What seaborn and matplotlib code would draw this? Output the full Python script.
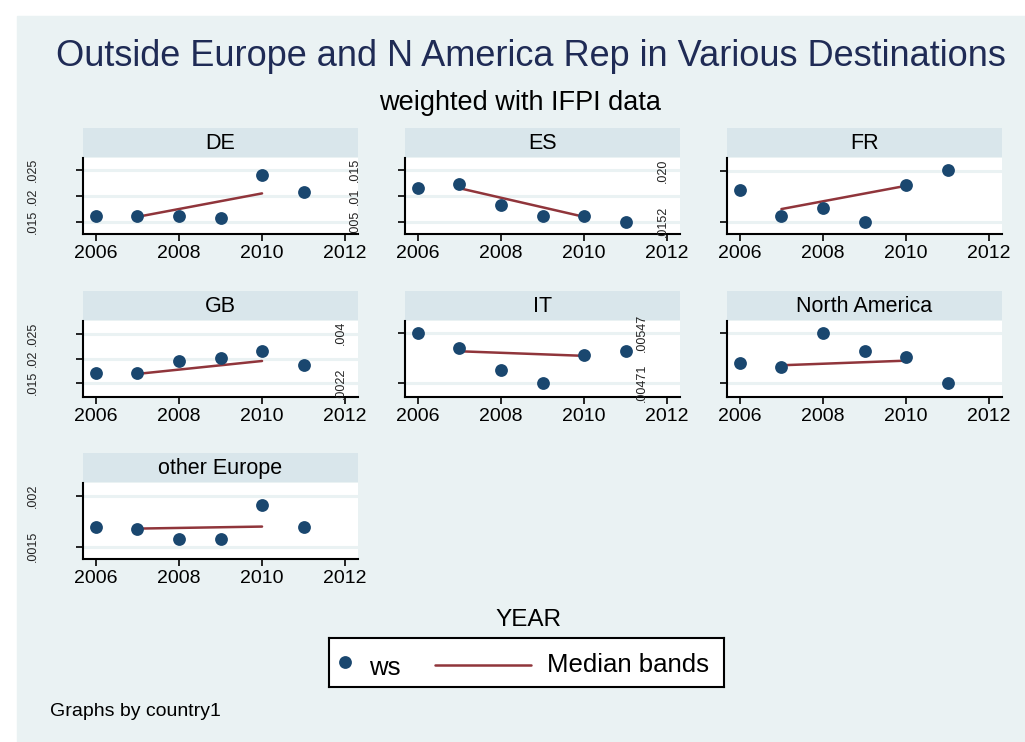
import numpy as np
import pandas as pd
import matplotlib
matplotlib.use('Agg')
import matplotlib.pyplot as plt
import seaborn as sns
from matplotlib.patches import Rectangle

# data
years = [2006, 2007, 2008, 2009, 2010, 2011]
countries = ['DE', 'ES', 'FR', 'GB', 'IT', 'North America', 'other Europe']

ws_de = [0.0162, 0.0162, 0.0162, 0.0157, 0.0240, 0.0207]
ws_es = [0.0116, 0.0124, 0.0083, 0.0062, 0.0062, 0.0051]
ws_fr = [0.0182, 0.0157, 0.0165, 0.0152, 0.0187, 0.0201]
ws_gb = [0.0171, 0.0171, 0.0195, 0.0201, 0.0216, 0.0186]
ws_it = [0.0045, 0.0038, 0.0028, 0.0022, 0.0035, 0.0037]
ws_na = [0.00502, 0.00496, 0.00547, 0.00520, 0.00510, 0.00471]
ws_oe = [0.00170, 0.00168, 0.00158, 0.00158, 0.00191, 0.00170]

# median bands (two band midpoints per panel)
band_years = [2007, 2010]
med_de = [0.0160, 0.0205]
med_es = [0.0115, 0.0060]
med_fr = [0.0164, 0.0186]
med_gb = [0.0169, 0.0195]
med_it = [0.00367, 0.00346]
med_na = [0.00498, 0.00505]
med_oe = [0.00168, 0.00170]

# y ticks and their (partly clipped) labels as printed
yticks = {
    'DE': ([0.015, 0.02, 0.025], ['.015', '.02', '.025']),
    'ES': ([0.005, 0.01, 0.015], ['.005', '.01', '.015']),
    'FR': ([0.0152, 0.0200], ['.0152', '.020']),
    'GB': ([0.015, 0.02, 0.025], ['.015', '.02', '.025']),
    'IT': ([0.0022, 0.0045], ['.0022', '.004']),
    'North America': ([0.00471, 0.00547], ['.00471', '.00547']),
    'other Europe': ([0.0015, 0.002], ['.0015', '.002']),
}
ylims = {
    'DE': (0.0127, 0.0273), 'ES': (0.0027, 0.0173), 'FR': (0.01404, 0.02123),
    'GB': (0.01225, 0.02755), 'IT': (0.00157, 0.00506),
    'North America': (0.00450, 0.00565), 'other Europe': (0.00138, 0.00213),
}
label_pad = {'DE': 27, 'ES': 27, 'FR': 37, 'GB': 27, 'IT': 37,
             'North America': 52, 'other Europe': 27}

ws_all = [ws_de, ws_es, ws_fr, ws_gb, ws_it, ws_na, ws_oe]
med_all = [med_de, med_es, med_fr, med_gb, med_it, med_na, med_oe]
df = pd.DataFrame({'country1': np.repeat(countries, len(years)),
                   'YEAR': years * len(countries),
                   'ws': np.concatenate(ws_all)})
med = pd.DataFrame({'country1': np.repeat(countries, len(band_years)),
                    'YEAR': band_years * len(countries),
                    'median': np.concatenate(med_all)})

bg = '#EAF2F3'
strip_col = '#D9E6EB'
navy = '#1A476F'
maroon = '#90353B'

sns.set_style('white')
plt.rcParams['font.family'] = ['Liberation Sans', 'DejaVu Sans']
plt.rcParams['text.color'] = 'black'
plt.rcParams['xtick.color'] = 'black'
plt.rcParams['ytick.color'] = 'black'

W, H = 1025, 742
fig = plt.figure(figsize=(W / 100, H / 100), dpi=100)
fig.patch.set_facecolor('white')
fig.patches.append(Rectangle((17 / W, 0), 1 - 17 / W, 1 - 16 / H,
                             transform=fig.transFigure, color=bg, zorder=-10))


def fax(x0, y0, w, h):
    return fig.add_axes([x0 / W, 1 - (y0 + h) / H, w / W, h / H])


col_x = [83, 405, 727]
row_plot = [(158, 76), (321, 76), (483, 76)]
pw = 275

for i, c in enumerate(countries):
    r, k = divmod(i, 3)
    x0 = col_x[k]
    py, ph = row_plot[r]
    # strip
    sax = fax(x0, py - 30, pw, 29)
    sax.set_facecolor(strip_col)
    sax.set_xticks([])
    sax.set_yticks([])
    for s in sax.spines.values():
        s.set_visible(False)
    sax.text(0.5, 0.48, c, ha='center', va='center', fontsize=15.5,
             transform=sax.transAxes)

    ax = fax(x0, py, pw, ph)
    ax.set_facecolor('white')
    sub = df[df['country1'] == c]
    msub = med[med['country1'] == c]
    sns.lineplot(data=msub, x='YEAR', y='median', ax=ax, color=maroon,
                 lw=1.8, zorder=2, legend=False)
    sns.scatterplot(data=sub, x='YEAR', y='ws', ax=ax, color=navy, s=85,
                    edgecolor=navy, linewidth=0, zorder=3, legend=False)
    ax.set_xlim(2005.69, 2012.31)
    ax.set_ylim(*ylims[c])
    ax.set_xticks([2006, 2008, 2010, 2012])
    ticks, labels = yticks[c]
    ax.set_yticks(ticks)
    ax.set_yticklabels(labels, rotation=90, va='center', fontsize=9,
                       color='#222222')
    for t in ticks:
        ax.axhline(t, color=bg, lw=2.2, zorder=0)
    ax.tick_params(axis='x', length=5, width=1.2, direction='out',
                   labelsize=14, pad=3, bottom=True)
    ax.tick_params(axis='y', length=5, width=1.2, direction='out',
                   pad=label_pad[c], left=True)
    ax.set_xlabel('')
    ax.set_ylabel('')
    for s in ['top', 'right']:
        ax.spines[s].set_visible(False)
    for s in ['left', 'bottom']:
        ax.spines[s].set_color('black')
        ax.spines[s].set_linewidth(1.5)

fig.text(531 / W, 1 - 57 / H,
         'Outside Europe and N America Rep in Various Destinations',
         ha='center', va='center', fontsize=26, color='#1F2B55')
fig.text(520 / W, 1 - 103 / H, 'weighted with IFPI data',
         ha='center', va='center', fontsize=19.5)
fig.text(528 / W, 1 - 620 / H, 'YEAR', ha='center', va='center', fontsize=17.5)
fig.text(50 / W, 1 - 711 / H, 'Graphs by country1', ha='left', va='center',
         fontsize=14)

# legend box
lax = fax(329, 638, 395, 49)
lax.set_facecolor('white')
lax.set_xlim(0, 395)
lax.set_ylim(0, 49)
lax.set_xticks([])
lax.set_yticks([])
for s in lax.spines.values():
    s.set_color('black')
    s.set_linewidth(1.5)
lax.scatter([16], [25], s=85, color=navy, linewidth=0)
lax.text(40, 19, 'ws', ha='left', va='center', fontsize=18.5)
lax.plot([106, 202], [22, 22], color=maroon, lw=1.8)
lax.text(218, 22, 'Median bands', ha='left', va='center', fontsize=18.5)

fig.savefig('out.png', dpi=100)
